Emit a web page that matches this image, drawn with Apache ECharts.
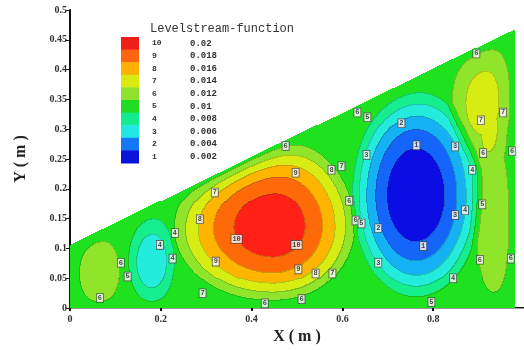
<!DOCTYPE html>
<html>
<head>
<meta charset="utf-8">
<script src="https://cdn.jsdelivr.net/npm/echarts/dist/echarts.min.js"></script>
<style>
  html, body { margin: 0; padding: 0; background: #ffffff; }
  #chart { width: 524px; height: 350px; }
</style>
</head>
<body>
<div id="chart"></div>
<script>
// ---- Contour levels of the stream function (legend rows, top to bottom)
const levelIds = ['10', '9', '8', '7', '6', '5', '4', '3', '2', '1'];
const levelValues = ['0.02', '0.018', '0.016', '0.014', '0.012', '0.01', '0.008', '0.006', '0.004', '0.002'];
const levelStep = 0.002;              // spacing between contour levels
const legendColors = ['#f01e18', '#ff6410', '#ffb000', '#d8ea10', '#8fe22c',
                      '#22dc22', '#12ec8c', '#20e6e4', '#1478f4', '#0a14d8'];
// fill colour of each band, from below level 1 up to above level 10
const bandColors = ['#0c0ce4', '#1466fa', '#14b2f4', '#24ecdc', '#16ee8e',
                    '#1ee21e', '#90e42a', '#d6ec12', '#ffb400', '#ff6a08', '#ff2016'];

// ---- Flow cells: centre, semi-axes (left, right, down, up) and strength
const cellX   = [0.064, 0.180, 0.446, 0.761, 0.910, 0.935];
const cellY   = [0.062, 0.080, 0.137, 0.189, 0.350, 0.150];
const cellRxL = [0.056, 0.057, 0.228, 0.146, 0.080, 0.055];
const cellRxR = [0.056, 0.057, 0.190, 0.150, 0.080, 0.055];
const cellRyD = [0.075, 0.085, 0.133, 0.180, 0.120, 0.170];
const cellRyU = [0.075, 0.085, 0.158, 0.185, 0.120, 0.170];
const cellAmp = [0.0030, -0.0045, 0.0105, -0.011, 0.0040, 0.0024];
const psiWall = 0.011;                // stream function on the walls

// ---- Cavity: floor y = 0, side walls x = 0 and x = xRight, sloping lid
const xRight = 0.98;
const lidLeft = 0.106;
const lidRight = 0.468;
const lidLayer = 0.02;                // wall layer thicknesses
const sideLayer = 0.012;

// ---- Contour labels placed along the lines
const tagX = [0.066, 0.112, 0.127, 0.198, 0.231, 0.226, 0.475, 0.319, 0.286, 0.497,
              0.576, 0.598, 0.367, 0.499, 0.321, 0.503, 0.541, 0.578, 0.292, 0.429,
              0.510, 0.615, 0.629, 0.642, 0.633, 0.655, 0.730, 0.763, 0.653, 0.848,
              0.886, 0.908, 0.679, 0.848, 0.870, 0.778, 0.679, 0.844, 0.796, 0.905,
              0.954, 0.910, 0.974, 0.903, 0.971, 0.895];
const tagY = [0.017, 0.076, 0.053, 0.106, 0.126, 0.083, 0.272, 0.194, 0.149, 0.227,
              0.232, 0.238, 0.116, 0.106, 0.078, 0.065, 0.058, 0.058, 0.025, 0.008,
              0.015, 0.180, 0.147, 0.142, 0.328, 0.320, 0.310, 0.273, 0.257, 0.271,
              0.232, 0.174, 0.134, 0.156, 0.164, 0.104, 0.076, 0.050, 0.010, 0.315,
              0.328, 0.260, 0.263, 0.081, 0.083, 0.427];
const tagText = ['6', '6', '5', '4', '4', '4', '6', '7', '8', '9',
                 '8', '7', '10', '10', '9', '9', '8', '7', '7', '6',
                 '6', '6', '6', '5', '6', '5', '2', '1', '3', '3',
                 '4', '5', '2', '3', '4', '1', '3', '4', '5', '7',
                 '7', '6', '6', '6', '6', '6'];

// ---- Axes
const xMin = 0, xMax = 1, xStep = 0.2;
const yMin = 0, yMax = 0.5, yStep = 0.05;

function lidY(x) {
  return lidLeft + (lidRight - lidLeft) * x / xRight;
}

function psi(x, y) {
  let s = 0;
  for (let i = 0; i < cellX.length; i++) {
    const ox = x - cellX[i], oy = y - cellY[i];
    const dx = ox / (ox < 0 ? cellRxL[i] : cellRxR[i]);
    const dy = oy / (oy < 0 ? cellRyD[i] : cellRyU[i]);
    const r2 = dx * dx + dy * dy;
    if (r2 < 1) s += cellAmp[i] * (1 - r2);
  }
  const g = (1 - Math.exp(-Math.max(0, lidY(x) - y) / lidLayer)) *
            (1 - Math.exp(-y / sideLayer)) *
            (1 - Math.exp(-x / sideLayer)) *
            (1 - Math.exp(-Math.max(0, xRight - x) / sideLayer));
  return psiWall + s * g;
}

function bandOf(v) {
  return Math.max(0, Math.min(bandColors.length - 1, Math.floor(v / levelStep)));
}

// Sample the field on a fine lattice (about one sample per screen pixel).
const nCol = 446, nRow = 283;
const dX = xRight / nCol;
const dY = (yMax - yMin) / 302;
const grid = [];
for (let j = 0; j < nRow; j++) {
  const y = (j + 0.5) * dY;
  const row = new Int8Array(nCol);
  for (let i = 0; i < nCol; i++) {
    const x = (i + 0.5) * dX;
    row[i] = (y < lidY(x)) ? bandOf(psi(x, y)) : -1;
  }
  grid.push(row);
}

// Fill runs: [x0, x1, yCentre, band, kind=0]; contour runs: kind=1
const runs = [];
for (let j = 0; j < nRow; j++) {
  const y = (j + 0.5) * dY;
  const row = grid[j];
  const xs = Math.max(0, (y - lidLeft) * xRight / (lidRight - lidLeft));
  let i = 0;
  while (i < nCol && row[i] < 0) i++;
  if (i >= nCol) continue;
  let start = xs, band = row[i];
  for (i = i + 1; i < nCol; i++) {
    if (row[i] !== band) {
      runs.push([start, i * dX, y, band, 0]);
      start = i * dX;
      band = row[i];
    }
  }
  runs.push([start, xRight, y, band, 0]);
}
for (let j = 0; j < nRow; j++) {
  const y = (j + 0.5) * dY;
  const row = grid[j], up = j + 1 < nRow ? grid[j + 1] : null;
  let s = -1;
  for (let i = 0; i <= nCol; i++) {
    let edge = false;
    if (i < nCol && row[i] >= 0) {
      if (i + 1 < nCol && row[i + 1] >= 0 && row[i + 1] !== row[i]) edge = true;
      if (up && up[i] >= 0 && up[i] !== row[i]) edge = true;
    }
    if (edge && s < 0) s = i;
    if (!edge && s >= 0) {
      runs.push([(s + 0.5) * dX, (i + 0.5) * dX, y, 0, 1]);
      s = -1;
    }
  }
}

const tags = tagX.map((x, i) => [x, tagY[i], tagText[i]]);

const serif = "'Liberation Serif', 'DejaVu Serif', serif";
const mono = "'Liberation Mono', 'DejaVu Sans Mono', monospace";

const chart = echarts.init(document.getElementById('chart'), null, { renderer: 'canvas' });

// legend: colour blocks with level numbers and values
const legendTop = 37, legendRow = 12.6;
const legendGraphics = [{
  type: 'text', left: 150, top: 23,
  style: { text: 'Levelstream-function', font: '12px ' + mono, fill: '#333' }
}];
levelIds.forEach((id, i) => {
  legendGraphics.push({
    type: 'rect',
    shape: { x: 121, y: legendTop + i * legendRow, width: 18, height: legendRow + 0.5 },
    style: { fill: legendColors[i] }
  });
  legendGraphics.push({
    type: 'text', x: 152, y: legendTop + (i + 0.5) * legendRow,
    style: { text: id, font: 'bold 8px ' + mono, fill: '#333', verticalAlign: 'middle' }
  });
  legendGraphics.push({
    type: 'text', x: 190, y: legendTop + (i + 0.5) * legendRow,
    style: { text: levelValues[i], font: 'bold 9px ' + mono, fill: '#333', verticalAlign: 'middle' }
  });
});

chart.setOption({
  animation: false,
  backgroundColor: '#ffffff',
  grid: { left: 70, top: 10, width: 455, height: 302, containLabel: false },
  xAxis: [{
    type: 'value', min: xMin, max: xMax, interval: xStep,
    name: 'X ( m )', nameLocation: 'middle', nameGap: 18,
    nameTextStyle: { fontFamily: serif, fontWeight: 'bold', fontSize: 16, color: '#222' },
    axisLine: { show: true, onZero: false, lineStyle: { color: '#111', width: 2 } },
    axisTick: { show: true, length: 3, lineStyle: { color: '#111', width: 2 } },
    axisLabel: { color: '#333', fontFamily: serif, fontWeight: 'bold', fontSize: 10, margin: 6, showMaxLabel: false },
    splitLine: { show: false }
  }, {
    type: 'value', position: 'top', min: xMin, max: xMax,
    axisLine: { show: true, lineStyle: { color: '#9a9a9a', width: 1 } },
    axisTick: { show: false }, axisLabel: { show: false }, splitLine: { show: false }
  }],
  yAxis: {
    type: 'value', min: yMin, max: yMax, interval: yStep,
    name: 'Y ( m )', nameLocation: 'middle', nameGap: 41, nameRotate: 90,
    nameTextStyle: { fontFamily: serif, fontWeight: 'bold', fontSize: 16, color: '#222' },
    axisLine: { show: true, onZero: false, lineStyle: { color: '#111', width: 2 } },
    axisTick: { show: true, length: 4, lineStyle: { color: '#111', width: 1 } },
    axisLabel: { color: '#333', fontFamily: serif, fontWeight: 'bold', fontSize: 10, margin: 3 },
    splitLine: { show: false }
  },
  graphic: legendGraphics,
  series: [{
    type: 'custom',
    coordinateSystem: 'cartesian2d',
    data: runs,
    encode: { x: [0, 1], y: 2 },
    progressive: 0,
    progressiveThreshold: 1e9,
    silent: true,
    z: 1,
    renderItem: function (params, api) {
      const kind = api.value(4);
      if (kind === 1) {
        // contour segment: one pixel row just above the sample row
        const q0 = api.coord([api.value(0), api.value(2) + dY / 2]);
        const q1 = api.coord([api.value(1), api.value(2) + dY / 2]);
        const qx = Math.round(q0[0]);
        return {
          type: 'rect',
          shape: { x: qx, y: Math.round(q0[1]), width: Math.max(1, Math.round(q1[0]) - qx), height: 1 },
          style: { fill: 'rgba(30,50,30,0.22)' },
          z2: 2
        };
      }
      const p0 = api.coord([api.value(0), api.value(2) + dY / 2]);
      const p1 = api.coord([api.value(1), api.value(2) - dY / 2]);
      const x0 = Math.round(p0[0]), x1 = Math.round(p1[0]);
      const y0 = Math.round(p0[1]), y1 = Math.round(p1[1]);
      return {
        type: 'rect',
        shape: { x: x0, y: y0, width: x1 - x0, height: y1 - y0 },
        style: { fill: bandColors[api.value(3)] },
        z2: 1
      };
    }
  }, {
    type: 'scatter',
    data: tags,
    symbolSize: 0,
    silent: true,
    z: 5,
    label: {
      show: true, position: 'inside',
      formatter: p => p.value[2],
      fontSize: 7, fontFamily: mono, fontWeight: 'bold', color: '#111',
      backgroundColor: '#ffffff', borderColor: '#444', borderWidth: 0.8,
      padding: [1, 1, 0, 1]
    }
  }]
});
</script>
</body>
</html>
